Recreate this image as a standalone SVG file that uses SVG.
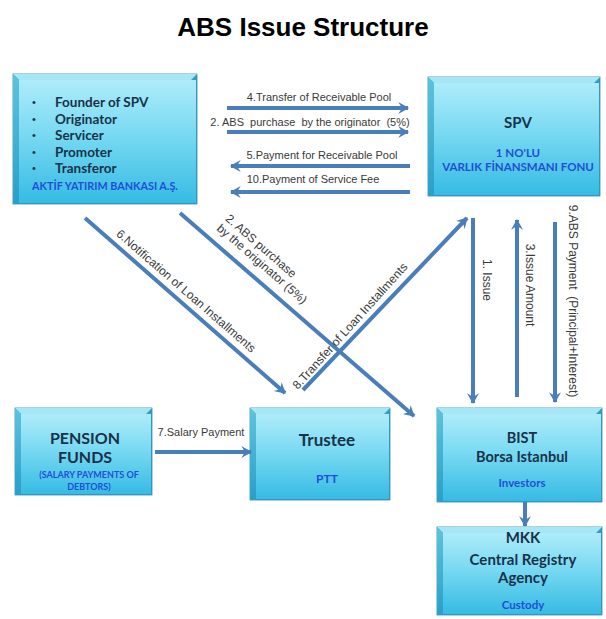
<svg xmlns="http://www.w3.org/2000/svg" width="606" height="619" viewBox="0 0 606 619">
<defs>
<linearGradient id="face" x1="0" y1="0" x2="0" y2="1">
<stop offset="0" stop-color="#aeecfa"/>
<stop offset="0.45" stop-color="#78d9f2"/>
<stop offset="1" stop-color="#36bbe4"/>
</linearGradient>
<linearGradient id="leftb" x1="0" y1="0" x2="0" y2="1">
<stop offset="0" stop-color="#5cc3df"/>
<stop offset="1" stop-color="#2a9fc8"/>
</linearGradient>
<marker id="ah" viewBox="0 0 12 12" refX="10" refY="6" markerWidth="13" markerHeight="13" markerUnits="userSpaceOnUse" orient="auto">
<path d="M1,0.5 L11,6 L1,11.5 L4.5,6 z" fill="#4a7ebb"/>
</marker>
</defs>
<style>
.edge{fill:#2f9fc7;stroke:#3390b4;stroke-width:0.8}
.top{fill:#a6e6f5}
.lft{fill:url(#leftb)}
.face{fill:url(#face)}
.bt{font-family:Lato,"Open Sans",sans-serif;font-weight:bold;fill:#17324a;text-anchor:middle}
.bl{font-family:Lato,"Open Sans",sans-serif;font-weight:bold;fill:#1f4fd6;text-anchor:middle}
.lb{font-family:"Liberation Sans",Arial,sans-serif;fill:#3a3a3a;font-size:11px;text-anchor:middle;white-space:pre}
.lbd{font-family:"Liberation Sans",Arial,sans-serif;fill:#3a3a3a;font-size:12px;text-anchor:middle;white-space:pre}
.ar{stroke:#4a7ebb;stroke-width:4;fill:none;marker-end:url(#ah)}
.bu{font-family:"Liberation Sans",Arial,sans-serif;font-size:11px;fill:#17324a}
</style>
<rect width="606" height="619" fill="#ffffff"/>
<text x="303" y="36" font-family="Liberation Sans,Arial,sans-serif" font-weight="bold" font-size="26" text-anchor="middle" fill="#000">ABS Issue Structure</text>

<g id="founder">
<rect class="edge" x="13" y="74" width="184" height="130"/>
<polygon class="top" points="13,74 197,74 191,80 19,80"/>
<polygon class="lft" points="13,74 19,80 19,204 13,204"/>
<rect class="face" x="19" y="80" width="177" height="123"/>
<g class="bu">
<text x="32" y="106">•</text>
<text x="32" y="123">•</text>
<text x="32" y="139">•</text>
<text x="32" y="156">•</text>
<text x="32" y="172">•</text>
</g>
<g class="bt" font-size="13.5" style="text-anchor:start">
<text x="55" y="107">Founder of SPV</text>
<text x="55" y="124">Originator</text>
<text x="55" y="140">Servicer</text>
<text x="55" y="157">Promoter</text>
<text x="55" y="173">Transferor</text>
</g>
<text class="bl" x="105" y="190" font-size="10.8">AKTİF YATIRIM BANKASI A.Ş.</text>
</g>

<g id="spv">
<rect class="edge" x="428" y="77" width="172" height="119"/>
<polygon class="top" points="428,77 600,77 594,83 434,83"/>
<polygon class="lft" points="428,77 434,83 434,196 428,196"/>
<rect class="face" x="434" y="83" width="165" height="112"/>
<text class="bt" x="518" y="128" font-size="15">SPV</text>
<text class="bl" x="518" y="157" font-size="11.5">1 NO'LU</text>
<text class="bl" x="518" y="171" font-size="11.5">VARLIK FİNANSMANI FONU</text>
</g>

<g id="pension">
<rect class="edge" x="15" y="408" width="137" height="87"/>
<polygon class="top" points="15,408 152,408 146,414 21,414"/>
<polygon class="lft" points="15,408 21,414 21,495 15,495"/>
<rect class="face" x="21" y="414" width="130" height="80"/>
<text class="bt" x="85" y="444" font-size="16">PENSION</text>
<text class="bt" x="85" y="463" font-size="16">FUNDS</text>
<text class="bl" x="89" y="478" font-size="9">(SALARY  PAYMENTS  OF</text>
<text class="bl" x="89" y="490" font-size="9">DEBTORS)</text>
</g>

<g id="trustee">
<rect class="edge" x="250" y="408" width="140" height="92"/>
<polygon class="top" points="250,408 390,408 384,414 256,414"/>
<polygon class="lft" points="250,408 256,414 256,500 250,500"/>
<rect class="face" x="256" y="414" width="133" height="85"/>
<text class="bt" x="327" y="446" font-size="17">Trustee</text>
<text class="bl" x="327" y="483" font-size="12">PTT</text>
</g>

<g id="bist">
<rect class="edge" x="437" y="408" width="165" height="94"/>
<polygon class="top" points="437,408 602,408 596,414 443,414"/>
<polygon class="lft" points="437,408 443,414 443,502 437,502"/>
<rect class="face" x="443" y="414" width="158" height="87"/>
<text class="bt" x="522" y="443" font-size="14.5">BIST</text>
<text class="bt" x="522" y="462" font-size="14.5">Borsa Istanbul</text>
<text class="bl" x="522" y="487" font-size="11.5">Investors</text>
</g>

<g id="mkk">
<rect class="edge" x="437" y="527" width="165" height="88"/>
<polygon class="top" points="437,527 602,527 596,533 443,533"/>
<polygon class="lft" points="437,527 443,533 443,615 437,615"/>
<rect class="face" x="443" y="533" width="158" height="81"/>
<text class="bt" x="523" y="543" font-size="15">MKK</text>
<text class="bt" x="523" y="565" font-size="15">Central Registry</text>
<text class="bt" x="523" y="583" font-size="15">Agency</text>
<text class="bl" x="523" y="609" font-size="11.5">Custody</text>
</g>

<g id="connectors">
<line class="ar" x1="227" y1="108" x2="408" y2="108"/>
<line class="ar" x1="227" y1="132" x2="408" y2="132"/>
<line class="ar" x1="410" y1="166" x2="231" y2="166"/>
<line class="ar" x1="410" y1="192" x2="231" y2="192"/>
<line class="ar" x1="85" y1="218" x2="285" y2="393"/>
<line class="ar" x1="180" y1="213" x2="414" y2="416"/>
<line class="ar" x1="303" y1="390" x2="467" y2="218"/>
<line class="ar" x1="473" y1="218" x2="473" y2="403"/>
<line class="ar" x1="517" y1="397" x2="517" y2="220"/>
<line class="ar" x1="555" y1="222" x2="555" y2="402"/>
<line class="ar" x1="155" y1="452" x2="251" y2="452"/>
<line class="ar" x1="525" y1="502" x2="525" y2="526"/>

<text class="lb" x="319" y="101">4.Transfer of Receivable Pool</text>
<text class="lb" x="310" y="126" font-size="10.5">2. ABS  purchase  by the originator  (5%)</text>
<text class="lb" x="322" y="159">5.Payment for Receivable Pool</text>
<text class="lb" x="313" y="183" font-size="11.5">10.Payment of Service Fee</text>
<text class="lb" x="201" y="436">7.Salary Payment</text>

<text class="lbd" transform="translate(186,291) rotate(41)" y="4" font-size="12.5">6.Notification of Loan Installments</text>
<text class="lbd" transform="translate(261,246) rotate(41)" y="4" font-size="13">2. ABS purchase</text>
<text class="lbd" transform="translate(262,264) rotate(41)" y="4" font-size="13">by the originator (5%)</text>
<text class="lbd" transform="translate(350,326) rotate(-48)" y="4">8.Transfer of Loan Installments</text>
<text class="lbd" transform="translate(487,280) rotate(90)" y="4">1. Issue</text>
<text class="lbd" transform="translate(530,285) rotate(90)" y="4" font-size="11.5">3.Issue Amount</text>
<text class="lbd" transform="translate(573,301) rotate(90)" y="4" font-size="12.5">9.ABS Payment  (Principal+Interest)</text>
</g>
</svg>
